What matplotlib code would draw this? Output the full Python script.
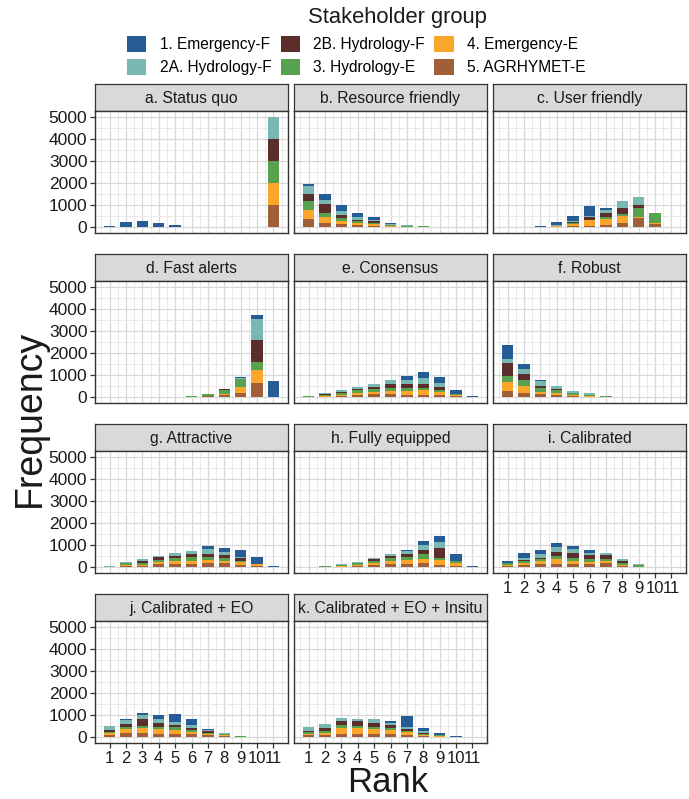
from __future__ import annotations

import matplotlib

matplotlib.use("Agg")
import matplotlib.pyplot as plt  # noqa: E402
from matplotlib.patches import Patch  # noqa: E402


FIGURE_PATH = "out.png"
FIG_W, FIG_H = 689, 799

RANKS = [1, 2, 3, 4, 5, 6, 7, 8, 9, 10, 11]

GROUP_LABELS = [
    "1. Emergency-F",
    "2A. Hydrology-F",
    "2B. Hydrology-F",
    "3. Hydrology-E",
    "4. Emergency-E",
    "5. AGRHYMET-E",
]
GROUP_COLORS = ["#255C96", "#78B7B2", "#5B2E2C", "#58A14E", "#F9A62B", "#A05F38"]

PANEL_TITLES = [
    "a. Status quo",
    "b. Resource friendly",
    "c. User friendly",
    "d. Fast alerts",
    "e. Consensus",
    "f. Robust",
    "g. Attractive",
    "h. Fully equipped",
    "i. Calibrated",
    "j. Calibrated + EO",
    "k. Calibrated + EO + Insitu",
]

# counts per rank; one row per group in GROUP_LABELS order
STATUS_QUO = [
    [60, 250, 310, 210, 120, 40, 10, 0, 0, 0, 0],
    [0, 0, 0, 0, 0, 0, 0, 0, 0, 0, 1000],
    [0, 0, 0, 0, 0, 0, 0, 0, 0, 0, 1000],
    [0, 0, 0, 0, 0, 0, 0, 0, 0, 0, 1000],
    [0, 0, 0, 0, 0, 0, 0, 0, 0, 0, 1000],
    [0, 0, 0, 0, 0, 0, 0, 0, 0, 0, 1000],
]
RESOURCE_FRIENDLY = [
    [70, 260, 260, 190, 140, 45, 10, 0, 0, 0, 0],
    [380, 180, 190, 110, 75, 45, 30, 10, 5, 0, 0],
    [330, 410, 150, 75, 60, 30, 15, 5, 0, 0, 0],
    [380, 190, 120, 75, 60, 30, 25, 30, 10, 0, 0],
    [410, 270, 150, 85, 75, 30, 15, 10, 0, 0, 0],
    [390, 190, 150, 110, 75, 30, 15, 10, 0, 0, 0],
]
USER_FRIENDLY = [
    [10, 20, 45, 130, 250, 430, 85, 0, 0, 0, 0],
    [0, 0, 10, 20, 40, 60, 130, 330, 350, 0, 0],
    [0, 0, 10, 20, 45, 110, 200, 240, 150, 0, 0],
    [0, 0, 0, 10, 30, 40, 65, 120, 380, 480, 0],
    [0, 0, 10, 20, 85, 240, 280, 280, 55, 10, 0],
    [0, 0, 5, 35, 75, 75, 110, 215, 430, 170, 0],
]
FAST_ALERTS = [
    [0, 0, 0, 0, 0, 0, 0, 0, 75, 170, 740],
    [0, 0, 0, 0, 0, 0, 10, 20, 40, 950, 0],
    [0, 0, 0, 0, 0, 0, 0, 10, 0, 980, 0],
    [0, 0, 0, 0, 10, 20, 65, 190, 370, 350, 0],
    [0, 0, 0, 0, 0, 10, 30, 70, 260, 600, 0],
    [0, 0, 0, 0, 5, 20, 45, 95, 195, 650, 0],
]
CONSENSUS = [
    [0, 0, 0, 0, 10, 10, 150, 300, 270, 190, 45],
    [0, 45, 55, 75, 120, 150, 180, 255, 180, 0, 0],
    [0, 20, 65, 45, 85, 180, 195, 180, 150, 0, 0],
    [45, 55, 75, 150, 140, 140, 120, 120, 75, 10, 0],
    [10, 30, 55, 85, 105, 150, 180, 195, 120, 75, 0],
    [20, 30, 65, 105, 140, 150, 120, 120, 120, 55, 0],
]
ROBUST = [
    [650, 215, 65, 10, 0, 0, 0, 0, 0, 0, 0],
    [170, 235, 235, 105, 105, 55, 10, 5, 0, 0, 0],
    [580, 270, 85, 45, 20, 10, 0, 0, 0, 0, 0],
    [280, 255, 150, 150, 55, 65, 55, 15, 5, 0, 0],
    [400, 300, 120, 85, 55, 20, 0, 0, 0, 0, 0],
    [300, 215, 140, 120, 75, 30, 10, 0, 0, 0, 0],
]
ATTRACTIVE = [
    [0, 0, 0, 0, 0, 0, 120, 215, 330, 290, 85],
    [10, 75, 65, 75, 105, 150, 215, 120, 65, 0, 0],
    [0, 10, 85, 105, 105, 150, 140, 150, 105, 0, 0],
    [15, 85, 85, 120, 140, 140, 120, 105, 75, 0, 0],
    [10, 30, 55, 85, 120, 150, 170, 120, 120, 75, 0],
    [10, 65, 75, 140, 160, 160, 180, 180, 105, 85, 0],
]
FULLY_EQUIPPED = [
    [0, 0, 0, 0, 0, 0, 70, 220, 280, 310, 70],
    [10, 0, 30, 40, 60, 100, 130, 210, 270, 30, 0],
    [0, 0, 0, 40, 90, 90, 120, 190, 420, 0, 0],
    [10, 50, 60, 80, 90, 150, 130, 190, 100, 90, 0],
    [0, 10, 20, 40, 90, 130, 190, 210, 240, 120, 0],
    [0, 20, 30, 60, 100, 150, 150, 190, 100, 60, 0],
]
CALIBRATED = [
    [100, 190, 190, 160, 150, 120, 0, 0, 0, 0, 0],
    [0, 100, 150, 220, 150, 100, 100, 70, 30, 0, 0],
    [0, 70, 70, 190, 220, 190, 180, 100, 30, 0, 0],
    [100, 90, 100, 120, 130, 100, 90, 70, 50, 20, 0],
    [40, 90, 120, 240, 160, 100, 90, 40, 0, 0, 0],
    [50, 90, 150, 160, 150, 160, 180, 80, 40, 10, 0],
]
CALIBRATED_EO = [
    [0, 40, 90, 180, 340, 270, 30, 0, 0, 0, 0],
    [190, 180, 180, 180, 130, 150, 60, 30, 10, 10, 0],
    [70, 150, 300, 190, 120, 90, 50, 20, 0, 0, 0],
    [70, 100, 120, 90, 120, 90, 60, 50, 30, 0, 0],
    [70, 150, 220, 220, 180, 90, 60, 30, 10, 0, 0],
    [120, 210, 190, 150, 150, 150, 100, 60, 20, 0, 0],
]
CALIBRATED_EO_INSITU = [
    [0, 0, 0, 0, 0, 90, 480, 150, 90, 60, 10],
    [200, 190, 160, 130, 150, 90, 100, 70, 30, 10, 0],
    [40, 100, 190, 210, 180, 120, 70, 40, 0, 0, 0],
    [80, 90, 120, 90, 90, 90, 70, 50, 30, 0, 0],
    [60, 100, 270, 270, 240, 180, 100, 40, 20, 0, 0],
    [90, 120, 150, 150, 150, 150, 130, 70, 40, 0, 0],
]

PANEL_DATA = [
    STATUS_QUO,
    RESOURCE_FRIENDLY,
    USER_FRIENDLY,
    FAST_ALERTS,
    CONSENSUS,
    ROBUST,
    ATTRACTIVE,
    FULLY_EQUIPPED,
    CALIBRATED,
    CALIBRATED_EO,
    CALIBRATED_EO_INSITU,
]

# facet grid geometry in pixels
COL_LEFT = [95, 294, 493]
ROW_TOP = [84, 254, 424, 594]
PANEL_W = 193
STRIP_H = 27
PLOT_H = 122

BORDER = "#333333"
TEXT = "#1A1A1A"


def px_axes(fig, left, top, width, height):
    return fig.add_axes([left / FIG_W, 1 - (top + height) / FIG_H, width / FIG_W, height / FIG_H])


def set_plot_style() -> None:
    plt.rcParams.update(
        {
            "font.family": ["Liberation Sans", "DejaVu Sans"],
            "figure.facecolor": "white",
            "axes.facecolor": "white",
            "xtick.color": BORDER,
            "ytick.color": BORDER,
            "xtick.labelcolor": TEXT,
            "ytick.labelcolor": TEXT,
        }
    )


def draw_strip(fig, left, top, title):
    ax = px_axes(fig, left, top, PANEL_W, STRIP_H)
    ax.set_facecolor("#D9D9D9")
    ax.set_xticks([])
    ax.set_yticks([])
    for spine in ax.spines.values():
        spine.set_color(BORDER)
        spine.set_linewidth(0.9)
    ax.text(0.5, 0.45, title, ha="center", va="center", fontsize=11.3, color=TEXT, transform=ax.transAxes)


def draw_panel(fig, idx, title, data, show_y, show_x):
    row, col = divmod(idx, 3)
    left, top = COL_LEFT[col], ROW_TOP[row]
    draw_strip(fig, left, top, title)

    ax = px_axes(fig, left, top + STRIP_H, PANEL_W, PLOT_H)
    ax.set_xlim(0.115, 11.885)
    ax.set_ylim(-250, 5250)
    ax.set_xticks(RANKS)
    ax.set_xticks([r + 0.5 for r in [0] + RANKS], minor=True)
    ax.set_yticks([0, 1000, 2000, 3000, 4000, 5000])
    ax.set_yticks([500, 1500, 2500, 3500, 4500], minor=True)
    ax.grid(True, which="major", color="#D8D8D8", linewidth=0.9, zorder=0)
    ax.grid(True, which="minor", color="#E6E6E6", linewidth=0.6, zorder=0)
    ax.set_axisbelow(True)
    for spine in ax.spines.values():
        spine.set_color(BORDER)
        spine.set_linewidth(1.0)

    # stack from the last group (bottom) up to the first (top)
    bottom = [0] * len(RANKS)
    for g in reversed(range(len(GROUP_LABELS))):
        values = data[g]
        ax.bar(RANKS, values, width=0.7, bottom=bottom, color=GROUP_COLORS[g], linewidth=0, zorder=2)
        bottom = [b + v for b, v in zip(bottom, values)]

    ax.tick_params(which="minor", length=0)
    ax.tick_params(axis="y", which="major", length=3.5, width=0.9, labelsize=12.5, pad=2)
    ax.tick_params(axis="x", which="major", length=3.5, width=0.9, labelsize=12, pad=2)
    if not show_y:
        ax.tick_params(axis="y", which="major", length=0, labelleft=False)
    if not show_x:
        ax.tick_params(axis="x", which="major", length=0, labelbottom=False)
    else:
        ax.set_xticklabels([str(r) for r in RANKS])


def draw_figure() -> None:
    set_plot_style()
    fig = plt.figure(figsize=(FIG_W / 100, FIG_H / 100), dpi=100)

    bottom_of_column = {9, 10, 8}
    for idx, (title, data) in enumerate(zip(PANEL_TITLES, PANEL_DATA)):
        draw_panel(fig, idx, title, data, show_y=(idx % 3 == 0), show_x=(idx in bottom_of_column))

    handles = [Patch(facecolor=c, edgecolor="none", label=l) for c, l in zip(GROUP_COLORS, GROUP_LABELS)]
    fig.legend(
        handles=handles,
        loc="upper left",
        bbox_to_anchor=(127 / FIG_W, 1 - 36 / FIG_H),
        ncol=3,
        frameon=False,
        fontsize=11.2,
        handlelength=1.25,
        handleheight=1.25,
        handletextpad=0.85,
        columnspacing=0.6,
        labelspacing=0.4,
        borderpad=0,
        borderaxespad=0,
    )
    fig.text(397 / FIG_W, 1 - 18 / FIG_H, "Stakeholder group", ha="center", va="center", fontsize=15.8, color=TEXT)
    fig.text(30 / FIG_W, 1 - 418 / FIG_H, "Frequency", ha="center", va="center", rotation=90, fontsize=27, color=TEXT)
    fig.text(388 / FIG_W, 1 - 783 / FIG_H, "Rank", ha="center", va="center", fontsize=25, color=TEXT)

    fig.savefig(FIGURE_PATH, dpi=100)
    plt.close(fig)


def main() -> None:
    draw_figure()


if __name__ == "__main__":
    main()
